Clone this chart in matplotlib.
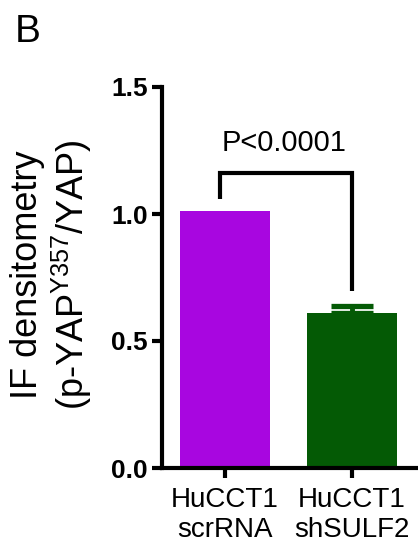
import matplotlib
matplotlib.use('Agg')
import matplotlib.pyplot as plt

plt.rcParams['font.family'] = ['Liberation Sans', 'DejaVu Sans']
plt.rcParams['mathtext.fontset'] = 'custom'
plt.rcParams['mathtext.rm'] = 'Liberation Sans'

# data
groups = ['HuCCT1\nscrRNA', 'HuCCT1\nshSULF2']
means = [1.01, 0.611]
sem_upper = [0.0, 0.025]
bar_colors = ['#a806e0', '#045a05']
y_ticks = [0.0, 0.5, 1.0, 1.5]
p_label = 'P<0.0001'

# bracket: left x, right x, top y, left drop, right drop
bracket_x = [-0.04, 1.0]
bracket_top = 1.161
bracket_ends = [1.06, 0.697]

fig = plt.figure(figsize=(4.18, 5.47), dpi=100)
ax = fig.add_axes([162 / 418, 1 - 468 / 547, 1 - 162 / 418, (468 - 87) / 547])

x = list(range(len(groups)))
ax.bar(x, means, width=0.706, color=bar_colors, zorder=2)
ax.errorbar(x[1], means[1], yerr=[[0], [sem_upper[1]]], fmt='none',
            ecolor=bar_colors[1], elinewidth=3.5, capsize=15, capthick=3.8, zorder=1)

lw = 3
ax.plot([bracket_x[0], bracket_x[0], bracket_x[1], bracket_x[1]],
        [bracket_ends[0], bracket_top, bracket_top, bracket_ends[1]],
        color='black', lw=lw, solid_capstyle='butt', solid_joinstyle='miter')
ax.text(0.47, 1.28, p_label, ha='center', va='center', fontsize=21)

ax.set_ylim(0, 1.5)
ax.set_xlim(-0.494, 1.52)
ax.set_yticks(y_ticks)
ax.set_yticklabels(['{:.1f}'.format(v) for v in y_ticks], fontsize=19, fontweight='bold')
ax.set_xticks(x)
ax.set_xticklabels(groups, fontsize=20, linespacing=1.2)

for side in ['top', 'right']:
    ax.spines[side].set_visible(False)
for side in ['left', 'bottom']:
    ax.spines[side].set_linewidth(lw)
ax.spines['left'].set_bounds(0, 1.5)
ax.tick_params(axis='both', width=lw, length=7, pad=3)
ax.tick_params(axis='x', pad=7)

fig.text(52 / 418, 1 - 275 / 547, 'IF densitometry\n(p-YAP$\\mathregular{^{Y357}}$/YAP)',
         rotation=90, ha='center', va='center', fontsize=26, linespacing=1.15,
         multialignment='center')
fig.text(15 / 418, 1 - 42 / 547, 'B', fontsize=28, ha='left', va='baseline')

fig.savefig('out.png', dpi=100)
